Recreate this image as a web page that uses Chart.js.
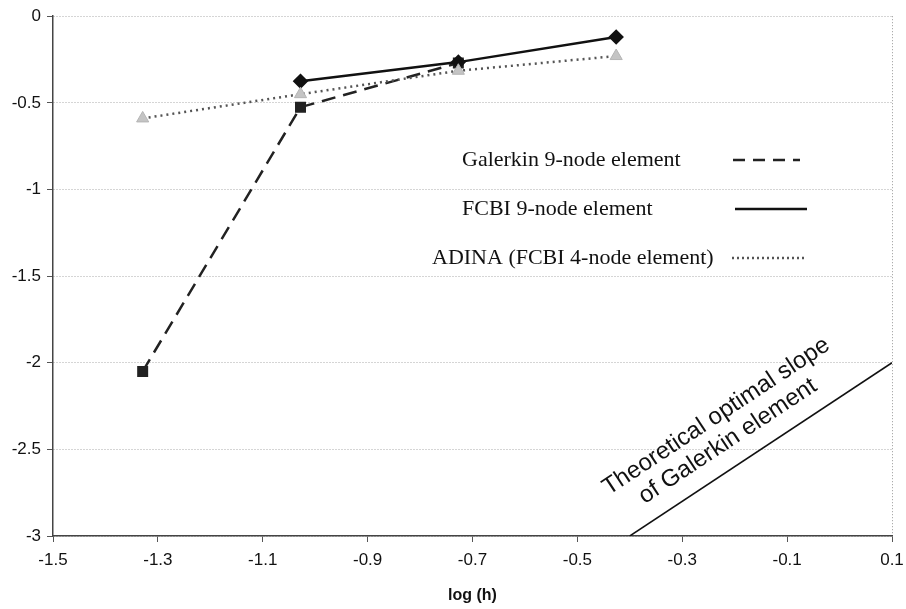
<!DOCTYPE html>
<html lang="en">
<head>
  <meta charset="UTF-8">
  <title>log(h) convergence</title>
  <style>
    body { margin: 0; background: #fff; }
    .chartBox { width: 906px; height: 609px; }
  </style>
</head>
<body>
<div class="chartBox">
  <canvas id="myChart" width="906" height="609"></canvas>
</div>
<script src="https://cdn.jsdelivr.net/npm/chart.js"></script>
<script>
  // values
  const logH = [-1.329, -1.028, -0.727, -0.426];
  const galerkinX = [-1.329, -1.028, -0.727];
  const galerkinErr = [-2.05, -0.525, -0.27];
  const fcbiX = [-1.028, -0.727, -0.426];
  const fcbiErr = [-0.375, -0.265, -0.12];
  const adinaErr = [-0.59, -0.45, -0.315, -0.23];
  const slopeX = [-0.4, 0.1];
  const slopeY = [-3, -2];
  const xTicks = [-1.5, -1.3, -1.1, -0.9, -0.7, -0.5, -0.3, -0.1, 0.1];
  const yTicks = [0, -0.5, -1, -1.5, -2, -2.5, -3];

  const legendNames = ['Galerkin 9-node element', 'FCBI 9-node element', 'ADINA (FCBI 4-node element)'];
  const slopeText = ['Theoretical optimal slope', 'of Galerkin element'];

  function toPoints(xs, ys) {
    let pts = [];
    for (let i = 0; i < ys.length; i++) {
      pts.push({x: xs[i], y: ys[i]});
    }
    return pts;
  }

  // legend drawn inside the plot, line samples on the right
  const legendInPlot = {
    id: 'legendInPlot',
    afterDraw(chart) {
      const c = chart.ctx;
      const rows = [
        {text: legendNames[0], tx: 462, y: 160, x0: 733, x1: 800, dash: [12, 8], color: '#222', w: 2.5},
        {text: legendNames[1], tx: 462, y: 209, x0: 735, x1: 807, dash: [], color: '#111', w: 2.5},
        {text: legendNames[2], tx: 432, y: 258, x0: 732, x1: 806, dash: [2, 3], color: '#555', w: 2.5}
      ];
      c.save();
      c.font = '22px "Liberation Serif", "Times New Roman", serif';
      c.fillStyle = '#111';
      c.textBaseline = 'middle';
      rows.forEach(r => {
        c.fillText(r.text, r.tx, r.y);
        c.beginPath();
        c.setLineDash(r.dash);
        c.lineWidth = r.w;
        c.strokeStyle = r.color;
        c.moveTo(r.x0, r.y);
        c.lineTo(r.x1, r.y);
        c.stroke();
      });
      c.restore();
    }
  };

  // rotated label along the theoretical slope line
  const slopeLabel = {
    id: 'slopeLabel',
    afterDatasetsDraw(chart) {
      const c = chart.ctx;
      const xs = chart.scales.x, ys = chart.scales.y;
      const p1 = {x: xs.getPixelForValue(slopeX[0]), y: ys.getPixelForValue(slopeY[0])};
      const p2 = {x: xs.getPixelForValue(slopeX[1]), y: ys.getPixelForValue(slopeY[1])};
      const ang = Math.atan2(p2.y - p1.y, p2.x - p1.x);
      const ux = Math.cos(ang), uy = Math.sin(ang);
      const nx = uy, ny = -ux;
      const offs = [[138, 52], [134, 25]];
      c.save();
      c.font = '24px "Liberation Sans", Arial, sans-serif';
      c.fillStyle = '#111';
      c.textAlign = 'center';
      c.textBaseline = 'middle';
      slopeText.forEach((t, i) => {
        const px = p1.x + ux * offs[i][0] + nx * offs[i][1];
        const py = p1.y + uy * offs[i][0] + ny * offs[i][1];
        c.save();
        c.translate(px, py);
        c.rotate(ang);
        c.fillText(t, 0, 0);
        c.restore();
      });
      c.restore();
    }
  };

  const whiteBg = {
    id: 'whiteBg',
    beforeDraw(chart) {
      const c = chart.ctx;
      c.save();
      c.fillStyle = '#fff';
      c.fillRect(0, 0, chart.width, chart.height);
      c.restore();
    }
  };

  const ctx = document.getElementById('myChart');

  const myChart = new Chart(ctx, {
    type: 'scatter',
    data: {
      datasets: [
        {
          label: 'ADINA',
          data: toPoints(logH, adinaErr),
          showLine: true,
          borderColor: '#555',
          borderWidth: 2.5,
          borderDash: [2, 4],
          pointStyle: 'triangle',
          pointRadius: 7,
          pointBackgroundColor: '#c4c4c4',
          pointBorderColor: '#b5b5b5',
          pointBorderWidth: 1
        },
        {
          label: 'FCBI',
          data: toPoints(fcbiX, fcbiErr),
          showLine: true,
          borderColor: '#111',
          borderWidth: 2.5,
          pointStyle: 'rectRot',
          pointRadius: 6,
          pointBackgroundColor: '#111',
          pointBorderColor: '#111'
        },
        {
          label: 'Galerkin',
          data: toPoints(galerkinX, galerkinErr),
          showLine: true,
          borderColor: '#222',
          borderWidth: 2.5,
          borderDash: [14, 8],
          pointStyle: 'rect',
          pointRadius: 6,
          pointBackgroundColor: '#222',
          pointBorderColor: '#222'
        },
        {
          label: 'slope',
          data: toPoints(slopeX, slopeY),
          showLine: true,
          borderColor: '#111',
          borderWidth: 1.5,
          pointRadius: 0
        }
      ]
    },
    options: {
      responsive: false,
      maintainAspectRatio: false,
      animation: false,
      layout: {padding: {top: 15, right: 14, left: 0, bottom: 0}},
      plugins: {
        legend: {display: false},
        tooltip: {enabled: false}
      },
      scales: {
        x: {
          type: 'linear',
          min: -1.5,
          max: 0.1,
          afterFit: (s) => { s.height = 73; s.paddingRight = 0; s.paddingLeft = 0; },
          afterBuildTicks: (s) => { s.ticks = xTicks.map(v => ({value: v})); },
          ticks: {
            color: '#111',
            padding: 8,
            font: {family: '"Liberation Sans", Arial, sans-serif', size: 17},
            callback: (v) => String(Number(v.toFixed(1)))
          },
          grid: {
            drawOnChartArea: true,
            color: (c) => (c.tick && Math.abs(c.tick.value - 0.1) < 1e-6) ? '#999' : 'rgba(0,0,0,0)',
            tickColor: '#555',
            tickLength: 6,
            tickBorderDash: [],
            lineWidth: 1
          },
          border: {display: true, color: '#444', width: 1.5, dash: [1, 2]},
          title: {
            display: true,
            text: 'log (h)',
            color: '#111',
            font: {family: '"Liberation Sans", Arial, sans-serif', size: 16, weight: 'bold'},
            padding: {top: 0, bottom: 4}
          }
        },
        y: {
          type: 'linear',
          min: -3,
          max: 0,
          afterFit: (s) => { s.width = 53; },
          afterBuildTicks: (s) => { s.ticks = yTicks.map(v => ({value: v})); },
          ticks: {
            color: '#111',
            padding: 6,
            font: {family: '"Liberation Sans", Arial, sans-serif', size: 17},
            callback: (v) => String(Number(v.toFixed(1)))
          },
          grid: {
            color: '#aaa',
            tickColor: '#555',
            tickLength: 6,
            tickBorderDash: [],
            lineWidth: 1
          },
          border: {display: true, color: '#444', width: 1.5, dash: [1, 2]}
        }
      }
    },
    plugins: [whiteBg, slopeLabel, legendInPlot]
  });
</script>
</body>
</html>
